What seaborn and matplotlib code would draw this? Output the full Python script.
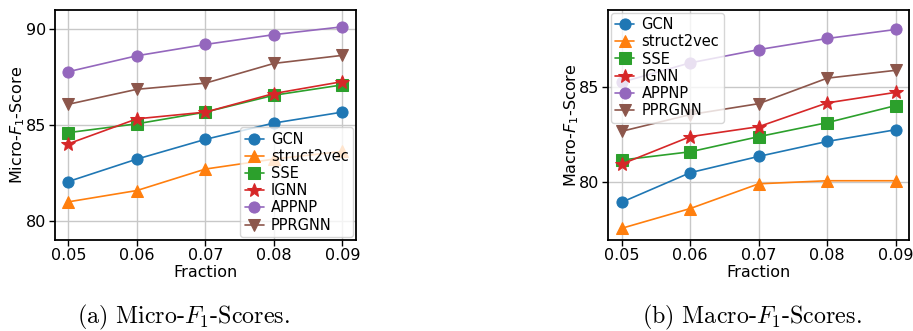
import pandas as pd
import matplotlib
matplotlib.use("Agg")
import matplotlib.pyplot as plt
import seaborn as sns

# Data
fractions = [0.05, 0.06, 0.07, 0.08, 0.09]
methods = ["GCN", "struct2vec", "SSE", "IGNN", "APPNP", "PPRGNN"]

micro_gcn = [82.05, 83.22, 84.25, 85.10, 85.67]
micro_struct2vec = [80.99, 81.58, 82.70, 83.22, 83.62]
micro_sse = [84.60, 85.06, 85.67, 86.55, 87.09]
micro_ignn = [84.02, 85.32, 85.67, 86.64, 87.26]
micro_appnp = [87.78, 88.61, 89.20, 89.71, 90.12]
micro_pprgnn = [86.08, 86.86, 87.18, 88.21, 88.63]

macro_gcn = [78.97, 80.51, 81.36, 82.14, 82.75]
macro_struct2vec = [77.61, 78.64, 79.93, 80.09, 80.09]
macro_sse = [81.17, 81.60, 82.39, 83.12, 84.01]
macro_ignn = [80.96, 82.39, 82.91, 84.15, 84.70]
macro_appnp = [85.23, 86.24, 86.93, 87.51, 87.98]
macro_pprgnn = [82.67, 83.54, 84.11, 85.44, 85.85]

micro = [micro_gcn, micro_struct2vec, micro_sse, micro_ignn, micro_appnp, micro_pprgnn]
macro = [macro_gcn, macro_struct2vec, macro_sse, macro_ignn, macro_appnp, macro_pprgnn]


def to_long(series):
    rows = []
    for name, vals in zip(methods, series):
        for f, v in zip(fractions, vals):
            rows.append({"Fraction": f, "Score": v, "Method": name})
    return pd.DataFrame(rows)


sns.set_style("whitegrid")
plt.rcParams["axes.edgecolor"] = "black"
plt.rcParams["axes.linewidth"] = 1.3
plt.rcParams["grid.color"] = "#c8c8c8"
plt.rcParams["grid.linewidth"] = 1.0
plt.rcParams["xtick.bottom"] = True
plt.rcParams["ytick.left"] = True
plt.rcParams["text.color"] = "black"
plt.rcParams["axes.labelcolor"] = "black"
plt.rcParams["xtick.color"] = "black"
plt.rcParams["ytick.color"] = "black"
plt.rcParams["mathtext.fontset"] = "dejavusans"

markers = {"GCN": "o", "struct2vec": "^", "SSE": "s", "IGNN": "*", "APPNP": "o", "PPRGNN": "v"}
palette = dict(zip(methods, sns.color_palette("tab10", 6)))

fig = plt.figure(figsize=(9.13, 3.31), dpi=100)
ax1 = fig.add_axes([0.060, 0.275, 0.330, 0.695])
ax2 = fig.add_axes([0.666, 0.275, 0.330, 0.695])

panels = [
    (ax1, micro, "Micro-$F_1$-Score", (79.0, 91.0), [80, 85, 90], "lower right"),
    (ax2, macro, "Macro-$F_1$-Score", (77.0, 89.0), [80, 85], "upper left"),
]

fs = 11.5
for ax, series, ylabel, ylim, yticks, loc in panels:
    df = to_long(series)
    sns.lineplot(data=df, x="Fraction", y="Score", hue="Method", style="Method",
                 hue_order=methods, style_order=methods, palette=palette,
                 markers=markers, dashes=False, markersize=8, linewidth=1.2,
                 legend=False, ax=ax)
    for line in ax.lines:
        line.set_markeredgecolor(line.get_color())
        if line.get_marker() == "*":
            line.set_markersize(10)
    ax.set_xticks(fractions)
    ax.set_xticklabels([f"{f:.2f}" for f in fractions])
    ax.set_yticks(yticks)
    ax.set_ylim(*ylim)
    ax.set_xlabel("Fraction", fontsize=fs, labelpad=1)
    ax.set_ylabel(ylabel, fontsize=fs, labelpad=-1)
    ax.tick_params(axis="both", labelsize=fs, length=4, width=1, pad=2)
    ax.legend(ax.lines[:6], methods, loc=loc, fontsize=10.5, labelspacing=0.15,
              handlelength=1.3, handletextpad=0.5, borderpad=0.3,
              borderaxespad=0.2, framealpha=0.8, fancybox=True)

fig.text(0.201, 0.042, "(a) Micro-$F_1$-Scores.", ha="center", va="center",
         fontsize=17.3, family="cmr10", math_fontfamily="cm")
fig.text(0.823, 0.042, "(b) Macro-$F_1$-Scores.", ha="center", va="center",
         fontsize=17.3, family="cmr10", math_fontfamily="cm")

fig.savefig("out.png", dpi=100)
plt.close()
